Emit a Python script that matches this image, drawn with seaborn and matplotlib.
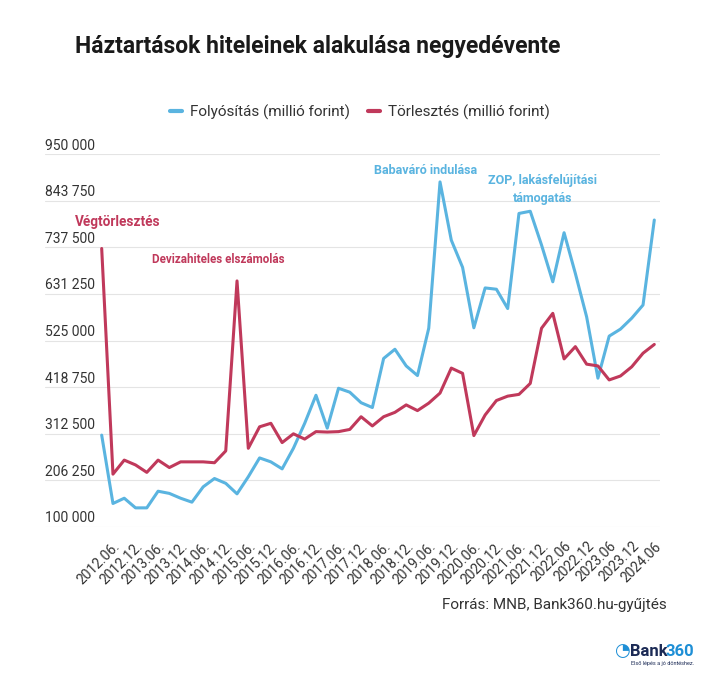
import pandas as pd
import matplotlib.pyplot as plt
import matplotlib.transforms as mtransforms
from matplotlib.lines import Line2D
import seaborn as sns

# quarterly data, 2012.03 - 2024.06
quarters = [f"{y}.{m:02d}" for y in range(2012, 2025) for m in (3, 6, 9, 12)][:50]

folyositas = [309000, 153000, 165000, 143000, 143000, 181000, 176000, 165000, 156000, 191000,
              210000, 199000, 175000, 214000, 257000, 248000, 232000, 279000, 336000, 400000,
              325000, 416000, 407000, 383000, 372000, 484000, 505000, 467000, 445000, 553000,
              887000, 754000, 692000, 554000, 645000, 642000, 598000, 815000, 820000, 743000,
              659000, 771000, 678000, 579000, 439000, 535000, 551000, 576000, 606000, 800000]

torlesztes = [735000, 220000, 252000, 241000, 224000, 252000, 235000, 248000, 248000, 248000,
              246000, 273000, 661000, 279000, 328000, 336000, 292000, 312000, 300000, 317000,
              316000, 317000, 322000, 351000, 330000, 351000, 361000, 378000, 365000, 382000,
              405000, 462000, 450000, 308000, 355000, 388000, 398000, 402000, 427000, 553000,
              587000, 483000, 511000, 471000, 467000, 435000, 444000, 465000, 496000, 516000]

tick_labels = ["2012.06.", "2012.12.", "2013.06.", "2013.12.", "2014.06.", "2014.12.",
               "2015.06.", "2015.12.", "2016.06.", "2016.12.", "2017.06.", "2017.12.",
               "2018.06.", "2018.12.", "2019.06.", "2019.12.", "2020.06.", "2020.12.",
               "2021.06.", "2021.12.", "2022.06", "2022.12", "2023.06", "2023.12", "2024.06"]

y_ticks = [100000, 206250, 312500, 418750, 525000, 631250, 737500, 843750, 950000]

lbl_blue = "Folyósítás (millió forint)"
lbl_red = "Törlesztés (millió forint)"
BLUE = "#5ab4e0"
RED = "#c0395b"
TEXT = "#333333"

df = pd.DataFrame({"pos": list(range(len(quarters))) * 2,
                   "value": folyositas + torlesztes,
                   "series": [lbl_blue] * len(quarters) + [lbl_red] * len(quarters)})

sns.set_style("white")
plt.rcParams["font.family"] = ["Roboto", "DejaVu Sans"]

fig = plt.figure(figsize=(7.27, 6.83), dpi=100)
ax = fig.add_axes([45 / 727, 1 - 526.7 / 683, 615 / 727, (526.7 - 154.3) / 683])

sns.lineplot(data=df, x="pos", y="value", hue="series", palette=[BLUE, RED],
             linewidth=2.2, ax=ax, legend=False, clip_on=False)

step = 11.28
ax.set_xlim(-(101.7 - 45) / step, 49 + (660 - 654.3) / step)
ax.set_ylim(100000, 950000)
ax.set_yticks(y_ticks)
ax.set_yticklabels([])
ax.tick_params(axis="both", length=0)
ax.grid(axis="y", color="#e4e4e4", linewidth=0.8)
ax.set_axisbelow(True)
for s in ax.spines.values():
    s.set_visible(False)
ax.set_xlabel("")
ax.set_ylabel("")

# y labels sit above the grid lines
trans = mtransforms.blended_transform_factory(ax.transAxes, ax.transData)
for v in y_ticks:
    ax.text(0, v + 3500, f"{v:,}".replace(",", " "), transform=trans, ha="left", va="bottom",
            fontsize=10, color=TEXT)

ax.set_xticks(range(1, len(quarters), 2))
ax.set_xticklabels(tick_labels, rotation=45, ha="right", rotation_mode="anchor",
                   fontsize=10, color=TEXT)
ax.tick_params(axis="x", pad=9)

# annotations
ax.text(-2.37, 795000, "Végtörlesztés", color=RED, fontsize=9.8, weight="bold", ha="left", va="center")
ax.text(10.3, 709000, "Devizahiteles elszámolás", color=RED, fontsize=8.4, weight="bold",
        ha="center", va="center")
ax.text(28.7, 914000, "Babaváró indulása", color=BLUE, fontsize=9, weight="bold",
        ha="center", va="center")
ax.text(39.1, 870000, "ZOP, lakásfelújítási\ntámogatás", color=BLUE, fontsize=9, weight="bold",
        ha="center", va="center", linespacing=1.5)

fig.text(75 / 727, 1 - 47 / 683, "Háztartások hiteleinek alakulása negyedévente",
         fontsize=16.5, weight="bold", color="#1a1a1a", ha="left", va="center")

handles = [Line2D([], [], color=BLUE, lw=3), Line2D([], [], color=RED, lw=3)]
fig.legend(handles, [lbl_blue, lbl_red], loc="center", bbox_to_anchor=(360 / 727, 1 - 112 / 683),
           ncol=2, frameon=False, fontsize=11, handlelength=0.8, handletextpad=0.5,
           columnspacing=1.2, labelcolor=TEXT)

fig.text(667 / 727, 1 - 605 / 683, "Forrás: MNB, Bank360.hu-gyűjtés", fontsize=11,
         color=TEXT, ha="right", va="center")

# logo
fig.text(614 / 727, 1 - 651 / 683, "◔", fontsize=13, color="#1e8fd6", ha="left", va="center",
         family=["DejaVu Sans"])
fig.text(630 / 727, 1 - 651 / 683, "Bank", fontsize=12, weight="bold", color="#1b2a55",
         ha="left", va="center")
fig.text(666 / 727, 1 - 651 / 683, "360", fontsize=12, weight="bold", color="#1e8fd6",
         ha="left", va="center")
fig.text(631 / 727, 1 - 664 / 683, "Első lépés a jó döntéshez.", fontsize=4, color="#1b2a55",
         ha="left", va="center")

fig.savefig("out.png", dpi=100)
